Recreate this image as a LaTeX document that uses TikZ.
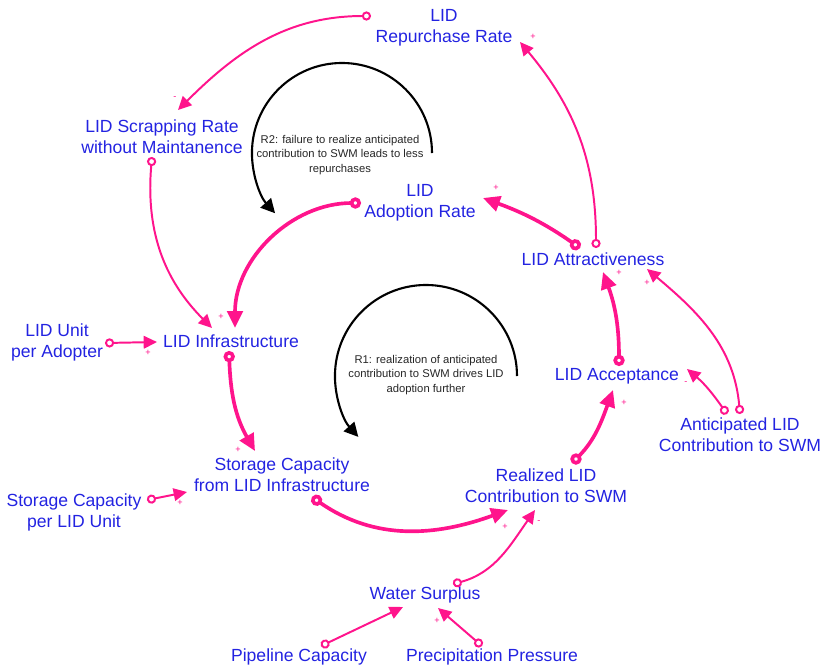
\documentclass[tikz,border=0pt]{standalone}
\usepackage{fontspec}
\setmainfont{Liberation Sans}
\usetikzlibrary{arrows.meta,calc}
\definecolor{varblue}{RGB}{35,35,225}
\definecolor{linkpink}{RGB}{255,20,140}
\begin{document}
\begin{tikzpicture}[x=0.025cm,y=0.025cm,
  var/.style={text=varblue,align=center,inner sep=1pt,font=\fontsize{12.5}{15}\selectfont},
  link/.style={linkpink,line width=1.4pt,{Circle[open,length=6.5pt]}-{Triangle[length=9.5pt,width=9pt]}},
  biglink/.style={linkpink,line width=2.6pt,{Circle[open,length=8pt]}-{Triangle[length=12pt,width=11pt]}},
  loopcurve/.style={black,line width=1.5pt,-{Triangle[length=10pt,width=10pt]}},
  loopnote/.style={text=black!85,align=center,font=\fontsize{8}{10.3}\selectfont},
  polsign/.style={text=linkpink,inner sep=0pt,font=\fontsize{6.5}{6.5}\selectfont}]
\useasboundingbox (0,0) rectangle (823,-667);
\node[var] (repurch) at (444,-28) {LID\\Repurchase Rate};
\node[var] (scrap) at (162,-137) {LID Scrapping Rate\\without Maintanence};
\node[var] (adopt) at (420,-203) {LID\\Adoption Rate};
\node[var] (attr) at (593,-259) {LID Attractiveness};
\node[var] (infra) at (231,-341) {LID Infrastructure};
\node[var] (unit) at (57,-342) {LID Unit\\per Adopter};
\node[var] (accept) at (617,-376) {LID Acceptance};
\node[var] (antic) at (740,-435) {Anticipated LID\\Contribution to SWM};
\node[var] (storfrom) at (282,-475) {Storage Capacity\\from LID Infrastructure};
\node[var] (storper) at (74,-512) {Storage Capacity\\per LID Unit};
\node[var] (real) at (546,-486) {Realized LID\\Contribution to SWM};
\node[var] (water) at (425,-595) {Water Surplus};
\node[var] (pipe) at (299,-657) {Pipeline Capacity};
\node[var] (precip) at (492,-657) {Precipitation Pressure};
\node[loopnote] (r2) at (340,-155) {R2: failure to realize anticipated\\contribution to SWM leads to less\\repurchases};
\node[loopnote] (r1) at (426,-375) {R1: realization of anticipated\\contribution to SWM drives LID\\adoption further};
\draw[loopcurve] ($(r2)+(92,2)$) arc[start angle=0,end angle=222,radius=2.25cm];
\draw[loopcurve] ($(r1)+(91,-1)$) arc[start angle=0,end angle=222,radius=2.275cm];
\draw[link] ($(repurch)+(-73,12)$) to[out=180,in=45] ($(scrap)+(16,27)$);
\draw[link] ($(scrap)+(-10,-20)$) to[out=265,in=135] ($(infra)+(-19,13)$);
\draw[biglink] ($(adopt)+(-59,0)$) to[out=180,in=90] ($(infra)+(4,13)$);
\draw[biglink] ($(infra)+(-2,-10)$) to[out=272,in=120] ($(storfrom)+(-27,24)$);
\draw[link] ($(unit)+(48,-1)$) -- ($(infra)+(-74,-1)$);
\draw[link] ($(storper)+(73,12)$) -- ($(storfrom)+(-95,-17)$);
\draw[biglink] ($(storfrom)+(30,-22)$) to[out=-35,in=200] ($(real)+(-38,-24)$);
\draw[link] ($(water)+(28,11)$) to[out=15,in=235] ($(real)+(-11,-24)$);
\draw[biglink] ($(real)+(26,23)$) to[out=45,in=250] ($(accept)+(-4,-14)$);
\draw[link] ($(antic)+(-13,21)$) to[out=125,in=-40] ($(accept)+(70,7)$);
\draw[link] ($(antic)+(0,21)$) to[out=95,in=-40] ($(attr)+(54,-10)$);
\draw[biglink] ($(accept)+(2,10)$) to[out=90,in=-70] ($(attr)+(10,-13)$);
\draw[biglink] ($(attr)+(-13,11)$) to[out=145,in=-20] ($(adopt)+(63,5)$);
\draw[link] ($(attr)+(3,11)$) to[out=90,in=-50] ($(repurch)+(76,-14)$);
\draw[link] ($(pipe)+(22,11)$) -- ($(water)+(-22,-12)$);
\draw[link] ($(precip)+(-10,11)$) -- ($(water)+(13,-13)$);
\node[polsign] (p1) at (175,-98) {-};
\node[polsign] (p2) at (221,-317) {+};
\node[polsign] (p4) at (238,-450) {+};
\node[polsign] (p5) at (148,-353) {+};
\node[polsign] (p6) at (180,-503) {+};
\node[polsign] (p7) at (505,-527) {+};
\node[polsign] (p8) at (539,-522) {-};
\node[polsign] (p9) at (624,-403) {+};
\node[polsign] (p10) at (686,-383) {-};
\node[polsign] (p11) at (647,-283) {+};
\node[polsign] (p12) at (619,-273) {+};
\node[polsign] (p13) at (496,-188) {+};
\node[polsign] (p14) at (533,-37) {+};
\node[polsign] (p16) at (437,-621) {+};
\end{tikzpicture}
\end{document}
